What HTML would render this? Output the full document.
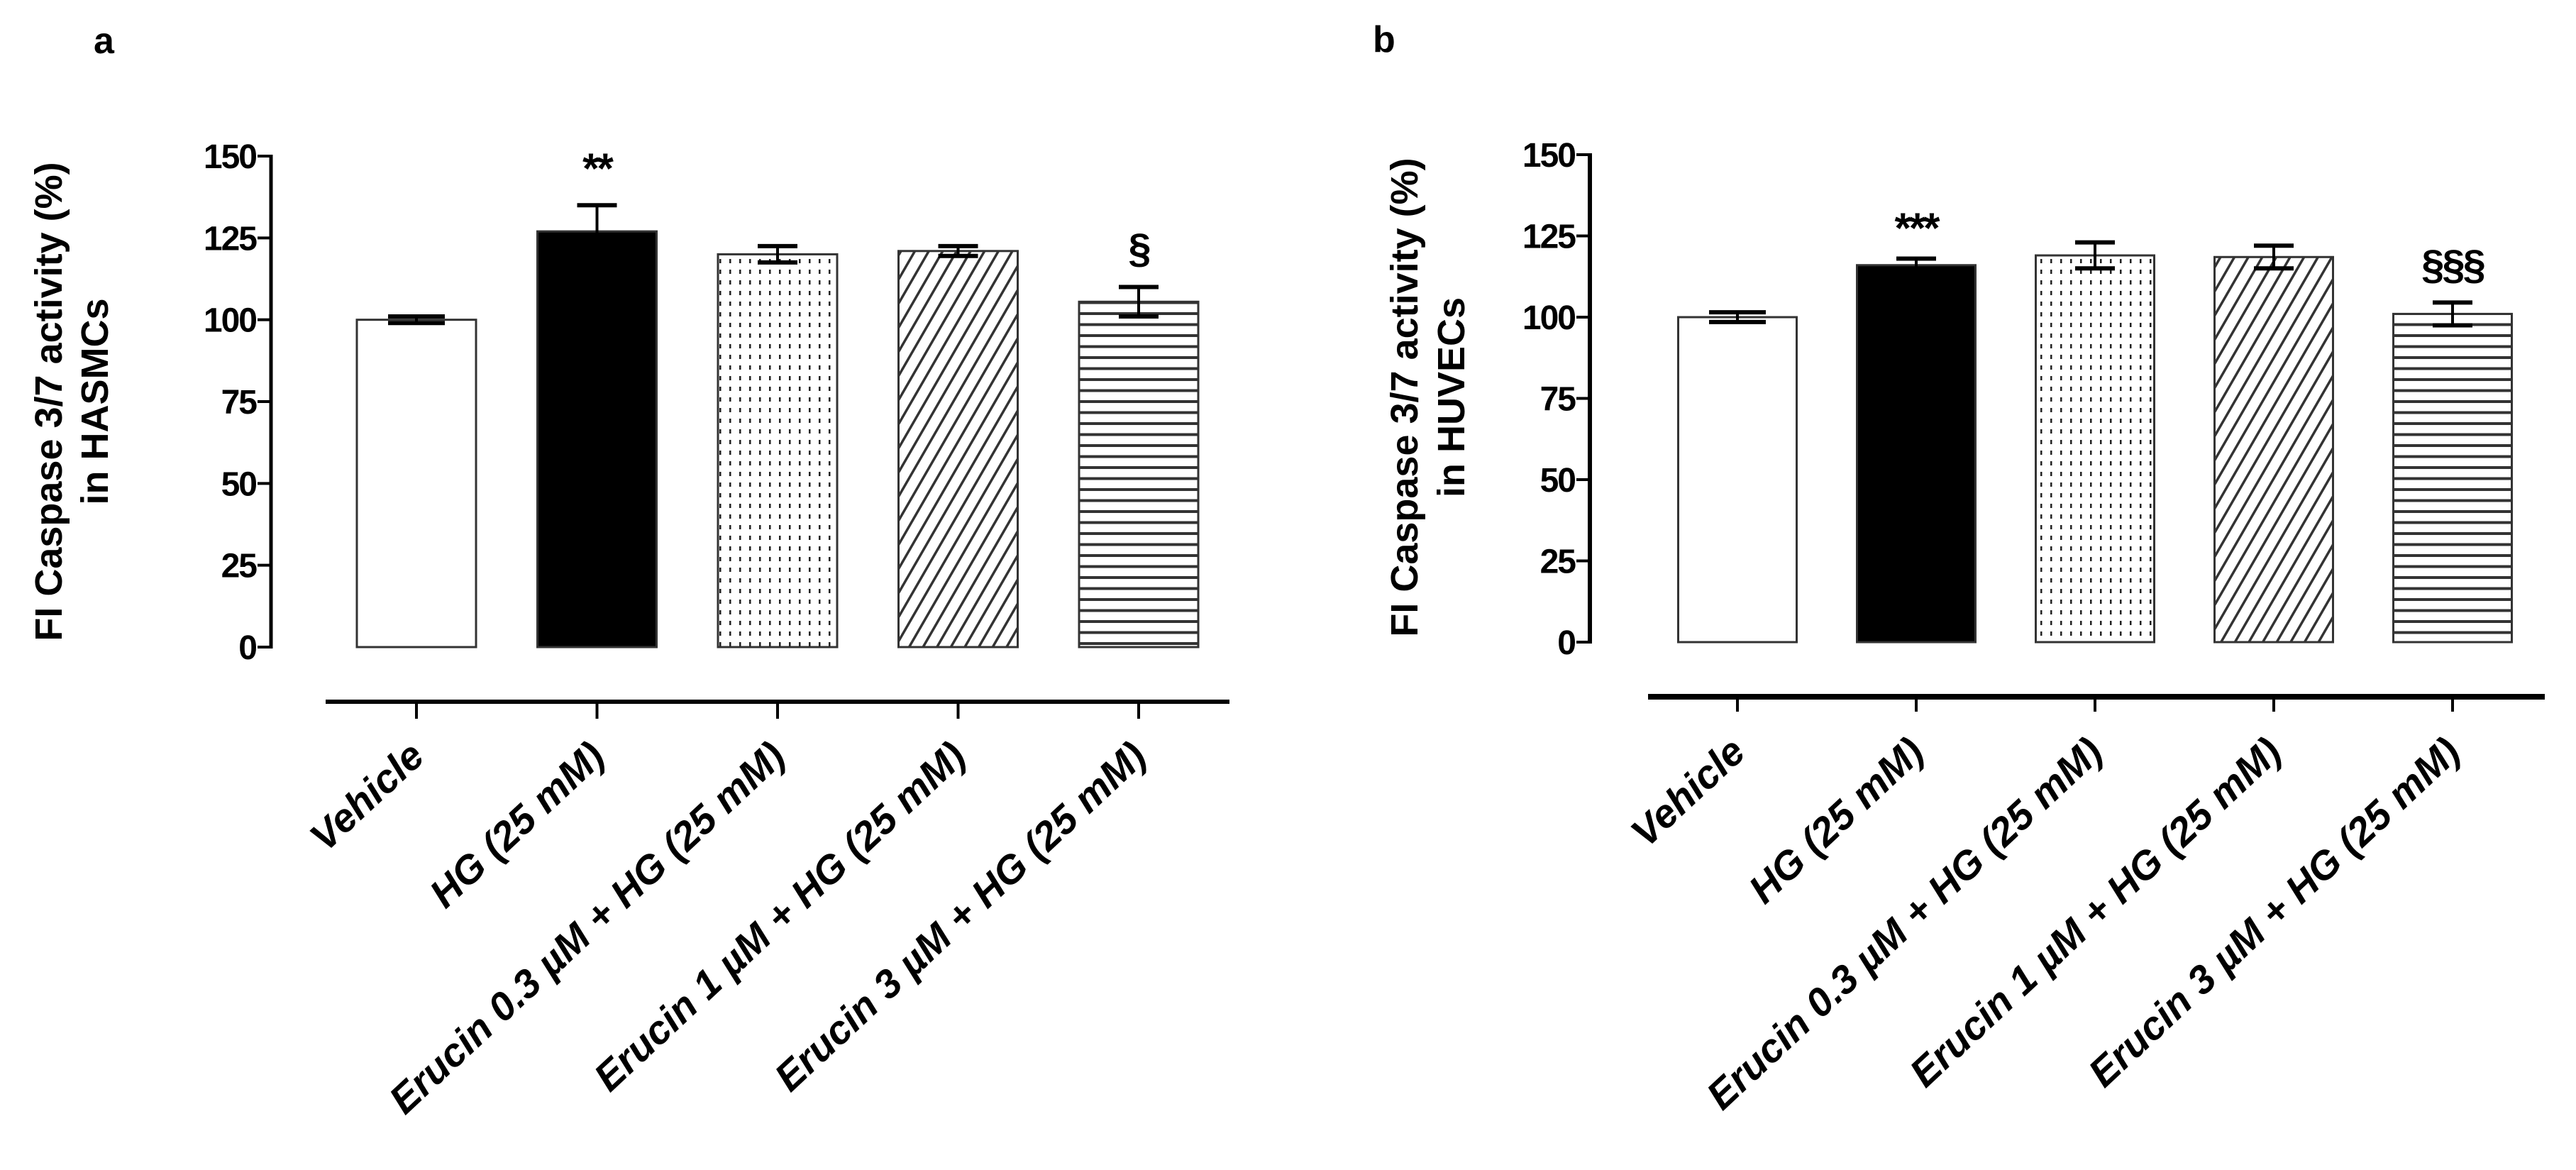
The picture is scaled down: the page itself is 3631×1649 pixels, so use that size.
<!DOCTYPE html>
<html><head><meta charset="utf-8"><style>
html,body{margin:0;padding:0;background:#fff;}
svg{display:block;}
text{font-family:"Liberation Sans",Arial,sans-serif;font-weight:bold;fill:#000;}
</style></head><body>
<svg id="chart" xmlns="http://www.w3.org/2000/svg" width="3631" height="1649" viewBox="0 0 3631 1649">
<defs>
<pattern id="pDots" patternUnits="userSpaceOnUse" width="14" height="15"><rect x="6" y="5" width="2.5" height="6" fill="#222"/></pattern>
<pattern id="pDiag" patternUnits="userSpaceOnUse" width="17" height="17" patternTransform="rotate(30)"><rect x="0" y="0" width="3.5" height="17" fill="#333"/></pattern>
<pattern id="pHoriz" patternUnits="userSpaceOnUse" width="20" height="15.5"><rect x="0" y="6" width="20" height="4" fill="#333"/></pattern>
</defs>
<g id="root"></g>
</svg>
<script>
const categories = ["Vehicle","HG (25 mM)","Erucin 0.3 µM + HG (25 mM)","Erucin 1 µM + HG (25 mM)","Erucin 3 µM + HG (25 mM)"];
const valuesA = [100, 127, 120, 121, 105.5];
const errorsA = [1, 8, 2.5, 1.5, 4.5];
const valuesB = [100, 116, 119, 118.5, 101];
const errorsB = [1.5, 2, 4, 3.5, 3.5];
const sigA = ["", "**", "", "", "§"];
const sigB = ["", "***", "", "", "§§§"];
const yTicks = [0, 25, 50, 75, 100, 125, 150];
const fills = ["#fff", "#000", "url(#pDots)", "url(#pDiag)", "url(#pHoriz)"];

const NS = "http://www.w3.org/2000/svg";
const root = document.getElementById("root");
function mk(tag, attrs, parent){
  const e = document.createElementNS(NS, tag);
  for (const k in attrs) e.setAttribute(k, attrs[k]);
  (parent || root).appendChild(e);
  return e;
}

const panels = [
  {id:"a", letter:"a", lx:132, ly:75, axisX:382, y0:912, y150:220, firstX:587, step:254.5, barW:168,
   catY:989, catX1:459, catX2:1733, tickBot:1013, labY:1070, titleX1:68, titleX2:133, titleY:566,
   values:valuesA, errors:errorsA, sig:sigA, cell:"HASMCs", sigBase:[0,258,0,0,370], catW:6, axW:5},
  {id:"b", letter:"b", lx:1935, ly:73, axisX:2241, y0:905, y150:218, firstX:2449, step:252, barW:167,
   catY:982, catX1:2323, catX2:3587, tickBot:1003, labY:1064, titleX1:1979, titleX2:2045, titleY:560,
   values:valuesB, errors:errorsB, sig:sigB, cell:"HUVECs", sigBase:[0,342,0,0,393], catW:8, axW:6}
];

panels.forEach(p => {
  const g = mk("g", {});
  
  
  const yScale = v => p.y0 - (v / 150) * (p.y0 - p.y150);
  const xCenter = i => p.firstX + i * p.step;

  const letter = mk("text", {x:p.lx, y:p.ly, "font-size":52}, g);
  letter.textContent = p.letter;
  
  

  const t1 = mk("text", {x:0, y:0, "font-size":54, "text-anchor":"middle", transform:`translate(${p.titleX1 + 19},${p.titleY}) rotate(-90)`}, g);
  t1.textContent = "FI Caspase 3/7 activity (%)";
  
  
  const t2 = mk("text", {x:0, y:0, "font-size":54, "text-anchor":"middle", transform:`translate(${p.titleX2 + 19},${p.titleY}) rotate(-90)`}, g);
  t2.textContent = "in " + p.cell;
  
  

  const ax = mk("line", {x1:p.axisX, y1:yScale(150)-2, x2:p.axisX, y2:p.y0+2, stroke:"#000", "stroke-width":p.axW}, g);
  
  
  yTicks.forEach(v => {
    const y = yScale(v);
    const tk = mk("line", {x1:p.axisX-19, y1:y, x2:p.axisX, y2:y, stroke:"#000", "stroke-width":4}, g);
    
    
    const tl = mk("text", {x:p.axisX-21, y:y+17, "font-size":48, "text-anchor":"end", "letter-spacing":"-2"}, g);
    tl.textContent = String(v);
    
    
  });

  p.values.forEach((v, i) => {
    const cx = xCenter(i);
    const top = yScale(v);
    const bar = mk("rect", {x:cx - p.barW/2, y:top, width:p.barW, height:p.y0 - top, fill:fills[i], stroke:"#333", "stroke-width":3}, g);
    
    
    const e = p.errors[i];
    const yh = yScale(v + e), yl = yScale(v - e);
    const cw = i === 0 ? 80 : 56;
    const eb = mk("g", {}, g);
    
    
    mk("line", {x1:cx, y1:yh, x2:cx, y2:yl, stroke:"#000", "stroke-width":4}, eb);
    mk("line", {x1:cx-cw/2, y1:yh, x2:cx+cw/2, y2:yh, stroke:"#000", "stroke-width":6}, eb);
    mk("line", {x1:cx-cw/2, y1:yl, x2:cx+cw/2, y2:yl, stroke:"#000", "stroke-width":6}, eb);
    if (p.sig[i]) {
      const s = mk("text", {x:cx, y:p.sigBase[i], "font-size":i===1?60:58, "text-anchor":"middle", "letter-spacing":"-3"}, g);
      s.textContent = p.sig[i];
      
      
    }
  });

  const ca = mk("line", {x1:p.catX1, y1:p.catY, x2:p.catX2, y2:p.catY, stroke:"#000", "stroke-width":p.catW}, g);
  
  
  categories.forEach((c, i) => {
    const cx = xCenter(i);
    const tk = mk("line", {x1:cx, y1:p.catY, x2:cx, y2:p.tickBot, stroke:"#000", "stroke-width":4}, g);
    
    
    const lb = mk("text", {x:0, y:0, "font-size":56, "font-style":"italic", "text-anchor":"end", transform:`translate(${cx+14},${p.labY}) rotate(-43)`}, g);
    lb.textContent = c;
    
    
  });
});
</script>
</body></html>
